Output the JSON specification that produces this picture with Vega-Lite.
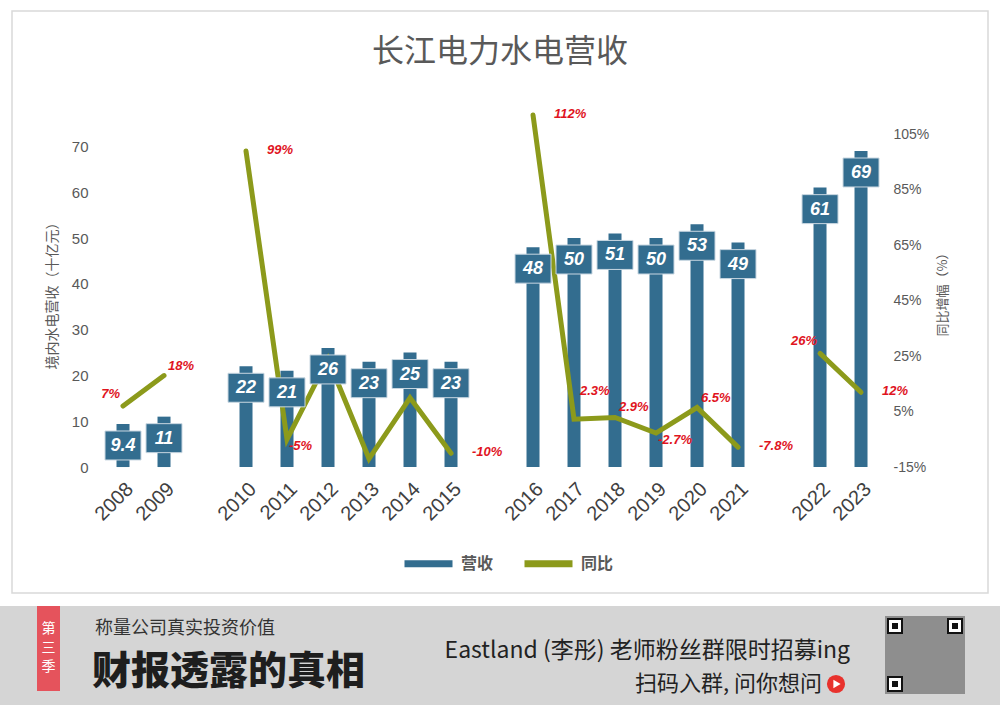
{
  "$schema": "https://vega.github.io/schema/vega-lite/v6.json",
  "background": "#ffffff",
  "padding": {"left": 0, "top": 10, "right": 0, "bottom": 0},
  "config": {
    "view": {"stroke": null},
    "font": "Liberation Sans",
    "legend": {
      "orient": "none",
      "legendX": 401,
      "legendY": 525,
      "direction": "horizontal",
      "title": null,
      "symbolType": "stroke",
      "symbolSize": 2304,
      "symbolStrokeWidth": 7,
      "labelFont": "Noto Sans CJK SC",
      "labelFontSize": 16,
      "labelFontWeight": "bold",
      "labelColor": "#595959",
      "labelOffset": 5,
      "columnPadding": 16
    }
  },
  "vconcat": [
    {
      "width": 976,
      "height": 582,
      "view": {"stroke": "#d9d9d9", "strokeWidth": 1.5, "fill": "#ffffff"},
      "title": {
        "text": "长江电力水电营收",
        "font": "Noto Sans CJK SC",
        "fontSize": 32,
        "fontWeight": "normal",
        "color": "#595959",
        "anchor": "middle",
        "frame": "group",
        "baseline": "middle",
        "offset": -73
      },
      "data": {
        "values": [
          {"year": "2008", "rev": 9.4, "yoy": 7, "seg": "a", "lbl": "7%"},
          {"year": "2009", "rev": 11, "yoy": 18, "seg": "a", "lbl": "18%"},
          {"year": "2010", "rev": 22, "yoy": 99, "seg": "b", "lbl": "99%"},
          {"year": "2011", "rev": 21, "yoy": -5, "seg": "b", "lbl": "-5%"},
          {"year": "2012", "rev": 26, "yoy": 24, "seg": "b", "lbl": "24%"},
          {"year": "2013", "rev": 23, "yoy": -12, "seg": "b", "lbl": "-12%"},
          {"year": "2014", "rev": 25, "yoy": 10, "seg": "b", "lbl": "10%"},
          {"year": "2015", "rev": 23, "yoy": -10, "seg": "b", "lbl": "-10%"},
          {"year": "2016", "rev": 48, "yoy": 112, "seg": "c", "lbl": "112%"},
          {"year": "2017", "rev": 50, "yoy": 2.3, "seg": "c", "lbl": "2.3%"},
          {"year": "2018", "rev": 51, "yoy": 2.9, "seg": "c", "lbl": "2.9%"},
          {"year": "2019", "rev": 50, "yoy": -2.7, "seg": "c", "lbl": "-2.7%"},
          {"year": "2020", "rev": 53, "yoy": 6.5, "seg": "c", "lbl": "6.5%"},
          {"year": "2021", "rev": 49, "yoy": -7.8, "seg": "c", "lbl": "-7.8%"},
          {"year": "2022", "rev": 61, "yoy": 26, "seg": "d", "lbl": "26%"},
          {"year": "2023", "rev": 69, "yoy": 12, "seg": "d", "lbl": "12%"}
        ]
      },
      "encoding": {
        "x": {
          "field": "year",
          "type": "nominal",
          "sort": null,
          "scale": {
            "domain": ["gapL1", "gapL2", "2008", "2009", "gap1", "2010", "2011", "2012", "2013", "2014", "2015", "gap2", "2016", "2017", "2018", "2019", "2020", "2021", "gap3", "2022", "2023", "gapR1", "gapR2"],
            "paddingInner": 0,
            "paddingOuter": 0.4024,
            "align": 0.258
          },
          "axis": {
            "title": null,
            "orient": "bottom",
            "offset": -126.5,
            "domain": false,
            "ticks": false,
            "labelAngle": -45,
            "labelFontSize": 20,
            "labelColor": "#404040",
            "labelPadding": 12,
            "labelExpr": "substring(datum.value, 0, 3) == 'gap' ? '' : datum.value"
          }
        }
      },
      "layer": [
        {
          "encoding": {
            "y": {
              "field": "rev",
              "type": "quantitative",
              "scale": {"domain": [-27.5, 99.56], "nice": false, "zero": false},
              "axis": {
                "orient": "left",
                "values": [0, 10, 20, 30, 40, 50, 60, 70],
                "offset": -80,
                "domain": false,
                "ticks": false,
                "grid": false,
                "labelPadding": 4,
                "labelFontSize": 15,
                "labelColor": "#595959",
                "title": "境内水电营收（十亿元）",
                "titleFont": "Noto Sans CJK SC",
                "titleFontSize": 14,
                "titleFontWeight": "normal",
                "titleColor": "#595959",
                "titleAngle": -90,
                "titleBaseline": "middle",
                "titleAlign": "center",
                "titleX": -40,
                "titleY": 281
              }
            }
          },
          "layer": [
            {
              "data": {"values": [{}]},
              "mark": {"type": "rule", "color": "#d9d9d9", "strokeWidth": 2},
              "encoding": {
                "x": {"datum": "2008", "type": "nominal", "bandPosition": 0},
                "x2": {"datum": "2023", "bandPosition": 1},
                "y": {"datum": 0, "type": "quantitative"}
              }
            },
            {
              "mark": {"type": "bar", "width": 13},
              "encoding": {
                "color": {
                  "datum": "营收",
                  "scale": {"domain": ["营收", "同比"], "range": ["#336d8f", "#8c9a1b"]}
                }
              }
            }
          ]
        },
        {
          "encoding": {
            "y": {
              "field": "yoy",
              "type": "quantitative",
              "scale": {"domain": [-60.4, 149.5], "nice": false, "zero": false},
              "axis": {
                "orient": "right",
                "values": [-15, 5, 25, 45, 65, 85, 105],
                "labelExpr": "datum.value + '%'",
                "offset": -99,
                "domain": false,
                "ticks": false,
                "grid": false,
                "labelPadding": 4,
                "labelFontSize": 14,
                "labelColor": "#595959",
                "title": "同比增幅（%）",
                "titleFont": "Noto Sans CJK SC",
                "titleFontSize": 13,
                "titleFontWeight": "normal",
                "titleColor": "#595959",
                "titleAngle": -90,
                "titleBaseline": "middle",
                "titleAlign": "center",
                "titleX": 53,
                "titleY": 280
              }
            }
          },
          "layer": [
            {
              "mark": {"type": "line", "strokeWidth": 5, "strokeCap": "round"},
              "encoding": {
                "detail": {"field": "seg"},
                "color": {"datum": "同比"}
              }
            }
          ]
        },
        {
          "encoding": {
            "y": {"field": "rev", "type": "quantitative", "scale": {"domain": [-27.5, 99.56], "nice": false, "zero": false}, "axis": null}
          },
          "layer": [
            {
              "mark": {
                "type": "point",
                "shape": "M-1,0.39H1V2H-1Z",
                "size": 1296,
                "filled": true,
                "opacity": 1,
                "color": "#336d8f",
                "stroke": "#c9d7e1",
                "strokeWidth": 1
              }
            },
            {
              "mark": {"type": "text", "dy": 22, "baseline": "middle", "align": "center", "color": "#ffffff", "fontSize": 18, "fontWeight": "bold", "fontStyle": "italic"},
              "encoding": {"text": {"field": "rev"}}
            }
          ]
        },
        {
          "encoding": {
            "y": {"field": "yoy", "type": "quantitative", "scale": {"domain": [-60.4, 149.5], "nice": false, "zero": false}, "axis": null},
            "text": {"field": "lbl"}
          },
          "layer": [
            {
              "transform": [{"filter": {"field": "year", "oneOf": ["2010", "2015", "2016", "2021", "2023"]}}],
              "mark": {"type": "text", "align": "left", "baseline": "middle", "dx": 21, "dy": -1, "color": "#e0141e", "fontSize": 13, "fontWeight": "bold", "fontStyle": "italic"}
            },
            {
              "transform": [{"filter": {"field": "year", "oneOf": ["2009", "2018", "2020"]}}],
              "mark": {"type": "text", "align": "left", "baseline": "middle", "dx": 4, "dy": -10, "color": "#e0141e", "fontSize": 13, "fontWeight": "bold", "fontStyle": "italic"}
            },
            {
              "transform": [{"filter": {"field": "year", "oneOf": ["2017"]}}],
              "mark": {"type": "text", "align": "left", "baseline": "middle", "dx": 6, "dy": -28, "color": "#e0141e", "fontSize": 13, "fontWeight": "bold", "fontStyle": "italic"}
            },
            {
              "transform": [{"filter": {"field": "year", "oneOf": ["2011", "2019"]}}],
              "mark": {"type": "text", "align": "left", "baseline": "middle", "dx": 2, "dy": 7, "color": "#e0141e", "fontSize": 13, "fontWeight": "bold", "fontStyle": "italic"}
            },
            {
              "transform": [{"filter": {"field": "year", "oneOf": ["2008", "2022"]}}],
              "mark": {"type": "text", "align": "right", "baseline": "middle", "dx": -3, "dy": -12, "color": "#e0141e", "fontSize": 13, "fontWeight": "bold", "fontStyle": "italic"}
            }
          ]
        }
      ],
      "resolve": {"scale": {"y": "independent"}}
    },
    {
      "width": 1000,
      "height": 100,
      "view": {"fill": "#d5d5d5", "stroke": null},
      "encoding": {
        "x": {"type": "quantitative", "scale": {"domain": [0, 1000], "nice": false}, "axis": null},
        "y": {"type": "quantitative", "scale": {"domain": [100, 0], "nice": false}, "axis": null}
      },
      "layer": [
        {
          "data": {"values": [{"x": 37, "x2": 60, "y": 0, "y2": 85}]},
          "mark": {"type": "rect", "color": "#e5535c"},
          "encoding": {
            "x": {"field": "x", "type": "quantitative"},
            "x2": {"field": "x2"},
            "y": {"field": "y", "type": "quantitative"},
            "y2": {"field": "y2"}
          }
        },
        {
          "data": {"values": [{"x": 48.5, "y": 23, "t": "第"}, {"x": 48.5, "y": 42, "t": "三"}, {"x": 48.5, "y": 61, "t": "季"}]},
          "mark": {"type": "text", "font": "Noto Sans CJK SC", "fontSize": 14, "color": "#ffffff", "baseline": "middle"},
          "encoding": {
            "x": {"field": "x", "type": "quantitative"},
            "y": {"field": "y", "type": "quantitative"},
            "text": {"field": "t"}
          }
        },
        {
          "data": {"values": [{"x": 95, "y": 23, "t": "称量公司真实投资价值"}]},
          "mark": {"type": "text", "font": "Noto Sans CJK SC", "fontSize": 18, "color": "#333333", "align": "left", "baseline": "middle"},
          "encoding": {
            "x": {"field": "x", "type": "quantitative"},
            "y": {"field": "y", "type": "quantitative"},
            "text": {"field": "t"}
          }
        },
        {
          "data": {"values": [{"x": 92, "y": 66, "t": "财报透露的真相"}]},
          "mark": {"type": "text", "font": "Noto Sans CJK SC", "fontSize": 39, "fontWeight": 900, "color": "#1e1e1e", "align": "left", "baseline": "middle"},
          "encoding": {
            "x": {"field": "x", "type": "quantitative"},
            "y": {"field": "y", "type": "quantitative"},
            "text": {"field": "t"}
          }
        },
        {
          "data": {"values": [{"x": 850, "y": 45, "t": "Eastland (李彤) 老师粉丝群限时招募ing"}]},
          "mark": {"type": "text", "font": "Noto Sans CJK SC", "fontSize": 23, "color": "#222222", "align": "right", "baseline": "middle"},
          "encoding": {
            "x": {"field": "x", "type": "quantitative"},
            "y": {"field": "y", "type": "quantitative"},
            "text": {"field": "t"}
          }
        },
        {
          "data": {"values": [{"x": 822, "y": 78, "t": "扫码入群, 问你想问"}]},
          "mark": {"type": "text", "font": "Noto Sans CJK SC", "fontSize": 22, "color": "#222222", "align": "right", "baseline": "middle"},
          "encoding": {
            "x": {"field": "x", "type": "quantitative"},
            "y": {"field": "y", "type": "quantitative"},
            "text": {"field": "t"}
          }
        },
        {
          "data": {"values": [{"x": 836, "y": 78}]},
          "mark": {"type": "point", "shape": "circle", "filled": true, "size": 330, "color": "#e8322d", "opacity": 1},
          "encoding": {
            "x": {"field": "x", "type": "quantitative"},
            "y": {"field": "y", "type": "quantitative"}
          }
        },
        {
          "data": {"values": [{"x": 837, "y": 78}]},
          "mark": {"type": "point", "shape": "triangle-right", "filled": true, "size": 70, "color": "#ffffff", "opacity": 1},
          "encoding": {
            "x": {"field": "x", "type": "quantitative"},
            "y": {"field": "y", "type": "quantitative"}
          }
        },
        {
          "data": {"values": [{"x": 885, "x2": 965, "y": 10, "y2": 88}]},
          "mark": {"type": "rect", "color": "#8e8e8e"},
          "encoding": {
            "x": {"field": "x", "type": "quantitative"},
            "x2": {"field": "x2"},
            "y": {"field": "y", "type": "quantitative"},
            "y2": {"field": "y2"}
          }
        },
        {
          "data": {"values": [{"x": 887, "x2": 903, "y": 12, "y2": 28}, {"x": 947, "x2": 963, "y": 12, "y2": 28}, {"x": 887, "x2": 903, "y": 70, "y2": 86}]},
          "mark": {"type": "rect", "color": "#111111"},
          "encoding": {
            "x": {"field": "x", "type": "quantitative"},
            "x2": {"field": "x2"},
            "y": {"field": "y", "type": "quantitative"},
            "y2": {"field": "y2"}
          }
        },
        {
          "data": {"values": [{"x": 889, "x2": 901, "y": 14, "y2": 26}, {"x": 949, "x2": 961, "y": 14, "y2": 26}, {"x": 889, "x2": 901, "y": 72, "y2": 84}]},
          "mark": {"type": "rect", "color": "#ffffff"},
          "encoding": {
            "x": {"field": "x", "type": "quantitative"},
            "x2": {"field": "x2"},
            "y": {"field": "y", "type": "quantitative"},
            "y2": {"field": "y2"}
          }
        },
        {
          "data": {"values": [{"x": 892, "x2": 898, "y": 17, "y2": 23}, {"x": 952, "x2": 958, "y": 17, "y2": 23}, {"x": 892, "x2": 898, "y": 75, "y2": 81}]},
          "mark": {"type": "rect", "color": "#111111"},
          "encoding": {
            "x": {"field": "x", "type": "quantitative"},
            "x2": {"field": "x2"},
            "y": {"field": "y", "type": "quantitative"},
            "y2": {"field": "y2"}
          }
        }
      ]
    }
  ],
  "spacing": 13,
  "center": true,
  "bounds": "flush"
}
